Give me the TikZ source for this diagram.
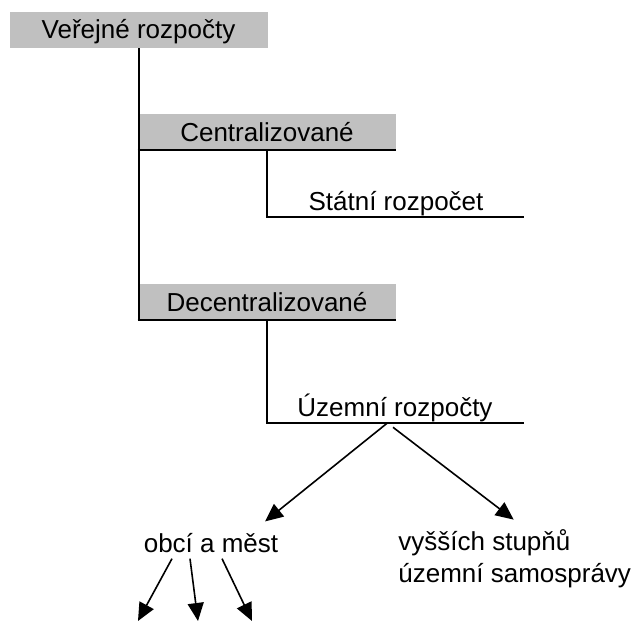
\documentclass[tikz,border=0pt]{standalone}
\usepackage{fontspec}
\setmainfont{Liberation Sans}
\usetikzlibrary{arrows.meta}
\definecolor{boxgray}{HTML}{C0C0C0}
\tikzset{
  hdr/.style={fill=boxgray, minimum width=129pt, minimum height=18pt, inner ysep=2pt,
    text height=11.5pt, text depth=2.5pt, font=\fontsize{13}{16}\selectfont},
  lbl/.style={inner sep=0pt, font=\fontsize{13}{16}\selectfont},
  tree/.style={line width=1pt},
  arr/.style={line width=0.8pt, -{Triangle[length=9pt,width=8pt]}}
}
\begin{document}
\begin{tikzpicture}[x=0.5pt,y=-0.5pt]
\useasboundingbox (0,0) rectangle (633,621);
\node (ver) [hdr] at (138.5,30) {Veřejné rozpočty};
\node (cent) [hdr] at (267,132) {Centralizované};
\node (dec) [hdr] at (267,302) {Decentralizované};
\node (stat) [lbl, anchor=base] at (396,210) {Státní rozpočet};
\node (uzem) [lbl, anchor=base] at (395,416) {Územní rozpočty};
\node (obce) [lbl, anchor=base] at (211,552) {obcí a měst};
\node (vyssi) [lbl, anchor=base west, align=left] at (398,582) {vyšších stupňů\\územní samosprávy};
\coordinate (statend) at (524,217);
\coordinate (uzemend) at (524,423);
\draw [tree] (ver.south) -- (ver.south |- dec.south);
\draw [tree] (cent.south west) -- (cent.south east);
\draw [tree] (dec.south west) -- (dec.south east);
\draw [tree] (cent.south) |- (statend);
\draw [tree] (dec.south) |- (uzemend);
\draw [arr] ([shift={(-8,1.5)}]uzem.south) -- ([shift={(54,-11)}]obce.north);
\draw [arr] ([shift={(-2,5.5)}]uzem.south) -- ([shift={(-1,-9)}]vyssi.north);
\foreach \i/\dx/\ex in {1/-39/138, 2/-21/198, 3/11/252} {
  \coordinate (obce\i) at (\ex,621);
  \draw [arr] ([shift={(\dx,6)}]obce.south) -- (obce\i);
}
\end{tikzpicture}
\end{document}
